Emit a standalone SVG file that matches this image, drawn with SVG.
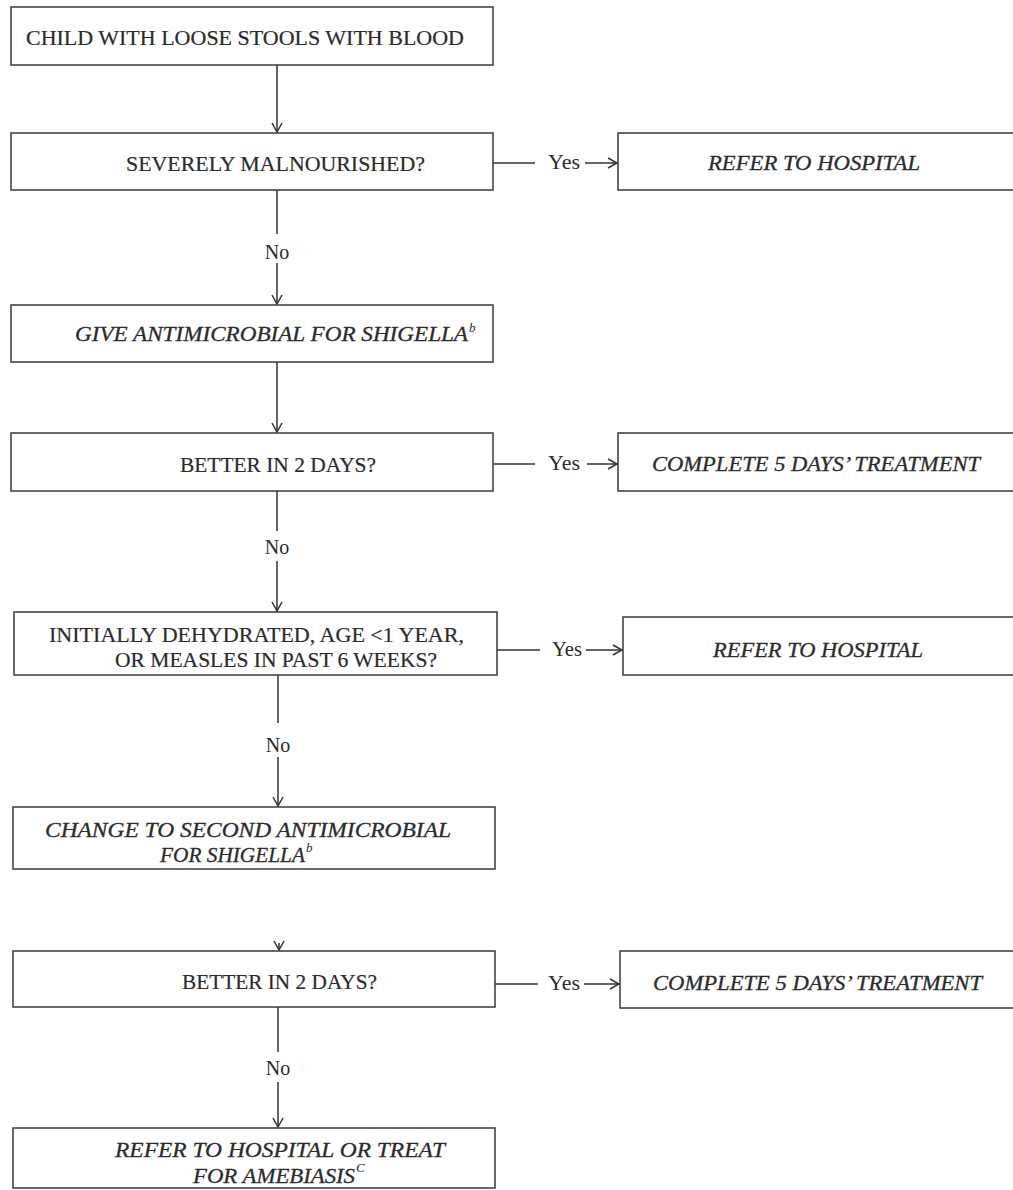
<svg xmlns="http://www.w3.org/2000/svg" width="1013" height="1190" viewBox="0 0 1013 1190">
<style>
.box{fill:#ffffff;stroke:#3a3a3a;stroke-width:1.5}
.t{font-family:"Liberation Serif","Times New Roman",serif;font-size:21px;fill:#2b2b2b;stroke:#2b2b2b;stroke-width:0.2}
.i{font-family:"Liberation Serif","Times New Roman",serif;font-size:21px;font-style:italic;fill:#2b2b2b;stroke:#2b2b2b;stroke-width:0.3}
.sup{font-family:"Liberation Serif","Times New Roman",serif;font-size:13px;font-style:italic;fill:#2b2b2b}
.lbl{font-family:"Liberation Serif","Times New Roman",serif;font-size:20px;fill:#2b2b2b}
.c{fill:none;stroke:#333333;stroke-width:1.5}
</style>
<defs>
<marker id="ah" markerUnits="userSpaceOnUse" markerWidth="14" markerHeight="14" refX="10" refY="6" orient="auto">
<path d="M1,1 L10,6 L1,11" fill="none" stroke="#333333" stroke-width="1.5"/>
</marker>
</defs>
<rect width="1013" height="1190" fill="#ffffff"/>

<g id="connectors">
<line class="c" x1="277" y1="65" x2="277" y2="132" marker-end="url(#ah)"/>
<line class="c" x1="277" y1="190" x2="277" y2="234"/>
<text class="lbl" x="277" y="259" text-anchor="middle" font-size="21">No</text>
<line class="c" x1="277" y1="263" x2="277" y2="304" marker-end="url(#ah)"/>
<line class="c" x1="277" y1="362" x2="277" y2="432" marker-end="url(#ah)"/>
<line class="c" x1="277" y1="491" x2="277" y2="531"/>
<text class="lbl" x="277" y="554" text-anchor="middle" font-size="21">No</text>
<line class="c" x1="277" y1="561" x2="277" y2="611" marker-end="url(#ah)"/>
<line class="c" x1="278" y1="675" x2="278" y2="723"/>
<text class="lbl" x="278" y="752" text-anchor="middle" font-size="21">No</text>
<line class="c" x1="278" y1="757" x2="278" y2="806" marker-end="url(#ah)"/>
<line class="c" x1="279" y1="943" x2="279" y2="950" marker-end="url(#ah)"/>
<line class="c" x1="278" y1="1007" x2="278" y2="1052"/>
<text class="lbl" x="278" y="1075" text-anchor="middle" font-size="21">No</text>
<line class="c" x1="278" y1="1082" x2="278" y2="1127" marker-end="url(#ah)"/>

<line class="c" x1="493" y1="163" x2="535" y2="163"/>
<text class="lbl" x="548" y="169" textLength="32" lengthAdjust="spacingAndGlyphs">Yes</text>
<line class="c" x1="585" y1="163" x2="617" y2="163" marker-end="url(#ah)"/>

<line class="c" x1="493" y1="464" x2="535" y2="464"/>
<text class="lbl" x="548" y="470" textLength="32" lengthAdjust="spacingAndGlyphs">Yes</text>
<line class="c" x1="587" y1="464" x2="617" y2="464" marker-end="url(#ah)"/>

<line class="c" x1="497" y1="650" x2="540" y2="650"/>
<text class="lbl" x="552" y="656" textLength="30" lengthAdjust="spacingAndGlyphs">Yes</text>
<line class="c" x1="586" y1="650" x2="622" y2="650" marker-end="url(#ah)"/>

<line class="c" x1="495" y1="984" x2="538" y2="984"/>
<text class="lbl" x="548" y="990" textLength="32" lengthAdjust="spacingAndGlyphs">Yes</text>
<line class="c" x1="584" y1="984" x2="619" y2="984" marker-end="url(#ah)"/>
</g>

<g id="n1">
<rect class="box" x="11" y="7" width="482" height="58"/>
<text class="t" x="26" y="45" textLength="438" lengthAdjust="spacingAndGlyphs">CHILD WITH LOOSE STOOLS WITH BLOOD</text>
</g>
<g id="n2">
<rect class="box" x="11" y="133" width="482" height="57"/>
<text class="t" x="126" y="171" textLength="299" lengthAdjust="spacingAndGlyphs">SEVERELY MALNOURISHED?</text>
</g>
<g id="n3">
<rect class="box" x="618" y="133" width="402" height="57"/>
<text class="i" x="708" y="170" textLength="212" lengthAdjust="spacingAndGlyphs">REFER TO HOSPITAL</text>
</g>
<g id="n4">
<rect class="box" x="11" y="305" width="482" height="57"/>
<text class="i" x="75" y="341" textLength="393" lengthAdjust="spacingAndGlyphs">GIVE ANTIMICROBIAL FOR SHIGELLA</text>
<text class="sup" x="469" y="332">b</text>
</g>
<g id="n5">
<rect class="box" x="11" y="433" width="482" height="58"/>
<text class="t" x="180" y="472" textLength="196" lengthAdjust="spacingAndGlyphs">BETTER IN 2 DAYS?</text>
</g>
<g id="n6">
<rect class="box" x="618" y="433" width="402" height="58"/>
<text class="i" x="652" y="471" textLength="328" lengthAdjust="spacingAndGlyphs">COMPLETE 5 DAYS’ TREATMENT</text>
</g>
<g id="n7">
<rect class="box" x="14" y="612" width="483" height="63"/>
<text class="t" x="49" y="642" textLength="415" lengthAdjust="spacingAndGlyphs">INITIALLY DEHYDRATED, AGE &lt;1 YEAR,</text>
<text class="t" x="115" y="667" textLength="322" lengthAdjust="spacingAndGlyphs">OR MEASLES IN PAST 6 WEEKS?</text>
</g>
<g id="n8">
<rect class="box" x="623" y="617" width="397" height="58"/>
<text class="i" x="713" y="657" textLength="210" lengthAdjust="spacingAndGlyphs">REFER TO HOSPITAL</text>
</g>
<g id="n9">
<rect class="box" x="13" y="807" width="482" height="62"/>
<text class="i" x="45" y="837" textLength="406" lengthAdjust="spacingAndGlyphs">CHANGE TO SECOND ANTIMICROBIAL</text>
<text class="i" x="160" y="862" textLength="145" lengthAdjust="spacingAndGlyphs">FOR SHIGELLA</text>
<text class="sup" x="306" y="852">b</text>
</g>
<g id="n10">
<rect class="box" x="13" y="951" width="482" height="56"/>
<text class="t" x="182" y="989" textLength="195" lengthAdjust="spacingAndGlyphs">BETTER IN 2 DAYS?</text>
</g>
<g id="n11">
<rect class="box" x="620" y="951" width="400" height="57"/>
<text class="i" x="653" y="990" textLength="329" lengthAdjust="spacingAndGlyphs">COMPLETE 5 DAYS’ TREATMENT</text>
</g>
<g id="n12">
<rect class="box" x="13" y="1128" width="482" height="60"/>
<text class="i" x="115" y="1157" textLength="330" lengthAdjust="spacingAndGlyphs">REFER TO HOSPITAL OR TREAT</text>
<text class="i" x="193" y="1183" textLength="162" lengthAdjust="spacingAndGlyphs">FOR AMEBIASIS</text>
<text class="sup" x="356" y="1172" font-style="normal">C</text>
</g>
</svg>
